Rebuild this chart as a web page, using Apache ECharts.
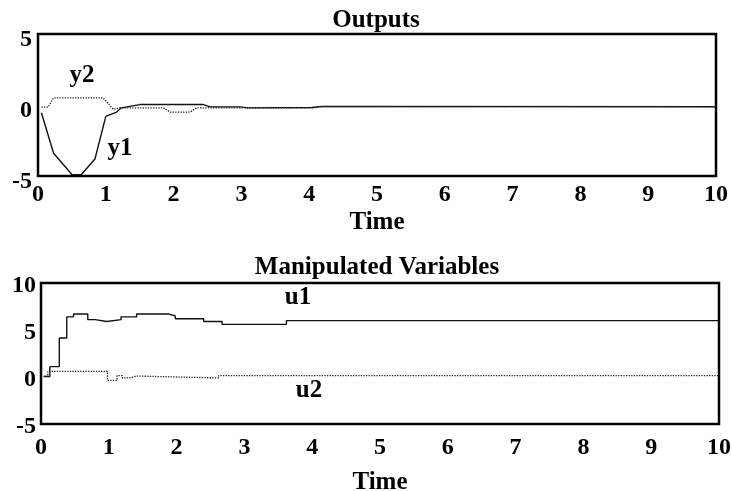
<!DOCTYPE html>
<html>
<head>
<meta charset="utf-8">
<script src="https://cdn.jsdelivr.net/npm/echarts@6/dist/echarts.min.js"></script>
<style>
  html, body { margin: 0; padding: 0; background: #fff; }
  #chart { width: 732px; height: 491px; }
</style>
</head>
<body>
<div id="chart"></div>
<script>
// outputs (top plot), [time, value]
var y1Data = [
  [0.05, -0.55], [0.23, -3.4], [0.50, -4.9], [0.64, -4.9], [0.84, -3.8],
  [1.00, -0.8], [1.16, -0.5], [1.23, -0.2], [1.50, 0.03], [2.44, 0.03],
  [2.54, -0.13], [2.98, -0.13], [3.10, -0.2], [4.04, -0.18], [4.19, -0.1],
  [10, -0.12]
];
var y2Data = [
  [0.05, -0.15], [0.15, -0.15], [0.23, 0.5], [0.96, 0.5], [1.11, -0.3],
  [1.21, -0.2], [1.85, -0.2], [1.95, -0.5], [2.24, -0.5], [2.34, -0.2],
  [4.06, -0.2], [4.19, -0.12], [10, -0.12]
];
// manipulated variables (bottom plot), step levels [start time, value]
var u1Data = [
  [0.04, 0.06], [0.13, 1.1], [0.27, 4.15], [0.38, 6.4], [0.48, 6.7],
  [0.69, 6.1], [0.80, 5.9], [0.97, 6.1], [1.18, 6.4], [1.41, 6.7],
  [1.88, 6.5], [1.98, 6.2], [2.40, 5.9], [2.67, 5.6], [3.62, 6.0], [10, 6.0]
];
var u2Data = [
  [0.04, 0.06], [0.10, 0.6], [0.98, -0.36], [1.12, 0.14], [1.20, -0.1],
  [1.30, 0.1], [1.42, -0.1], [2.62, 0.14], [10, 0.14]
];
var topRange = [-5, 5];
var bottomRange = [-5, 10];

var font = '"Liberation Serif", "Times New Roman", serif';
var tickStyle = { color: '#000', fontFamily: font, fontWeight: 'bold', fontSize: 24 };
var nameStyle = { color: '#000', fontFamily: font, fontWeight: 'bold', fontSize: 25 };

function xAxisFor(gridIndex, gap, margin) {
  return {
    type: 'value', gridIndex: gridIndex, min: 0, max: 10, interval: 1,
    name: 'Time', nameLocation: 'middle', nameGap: gap,
    nameTextStyle: nameStyle,
    axisLine: { show: false }, axisTick: { show: false }, splitLine: { show: false },
    axisLabel: Object.assign({ margin: margin }, tickStyle)
  };
}

function label(text, x, y) {
  return { type: 'text', style: { text: text, x: x, y: y, textAlign: 'center', textVerticalAlign: 'middle',
    font: 'bold 25px ' + font, fill: '#000' } };
}

var chart = echarts.init(document.getElementById('chart'), null, { renderer: 'canvas' });
chart.setOption({
  animation: false,
  backgroundColor: '#fff',
  grid: [
    { left: 38, right: 16, top: 34, bottom: 315, show: true, borderColor: '#000', borderWidth: 2.5,
      containLabel: false, outerBoundsMode: 'none' },
    { left: 41, right: 13, top: 283, bottom: 67, show: true, borderColor: '#000', borderWidth: 2.5,
      containLabel: false, outerBoundsMode: 'none' }
  ],
  xAxis: [xAxisFor(0, 34, 7), xAxisFor(1, 46, 12)],
  yAxis: [
    {
      type: 'value', gridIndex: 0, min: topRange[0], max: topRange[1], interval: 5,
      axisLine: { show: false }, axisTick: { show: false }, splitLine: { show: false },
      axisLabel: Object.assign({ margin: 6, verticalAlign: 'top', lineHeight: 12 }, tickStyle)
    },
    {
      type: 'value', gridIndex: 1, min: bottomRange[0], max: bottomRange[1], interval: 5,
      axisLine: { show: false }, axisTick: { show: false }, splitLine: { show: false },
      axisLabel: Object.assign({ margin: 5, verticalAlign: 'top', lineHeight: 6 }, tickStyle)
    }
  ],
  series: [
    { name: 'y1', type: 'line', xAxisIndex: 0, yAxisIndex: 0, data: y1Data, symbol: 'none',
      lineStyle: { color: '#111', width: 1.4 } },
    { name: 'y2', type: 'line', xAxisIndex: 0, yAxisIndex: 0, data: y2Data, symbol: 'none',
      lineStyle: { color: '#222', width: 1.3, type: 'dotted' } },
    { name: 'u1', type: 'line', xAxisIndex: 1, yAxisIndex: 1, data: u1Data, symbol: 'none', step: 'end',
      lineStyle: { color: '#111', width: 1.4 } },
    { name: 'u2', type: 'line', xAxisIndex: 1, yAxisIndex: 1, data: u2Data, symbol: 'none', step: 'end',
      lineStyle: { color: '#222', width: 1.3, type: 'dotted' } }
  ],
  graphic: [
    label('Outputs', 376, 21),
    label('Manipulated Variables', 377, 268),
    label('y2', 82, 76),
    label('y1', 120, 149),
    label('u1', 298, 298),
    label('u2', 309, 391)
  ]
});
</script>
</body>
</html>
